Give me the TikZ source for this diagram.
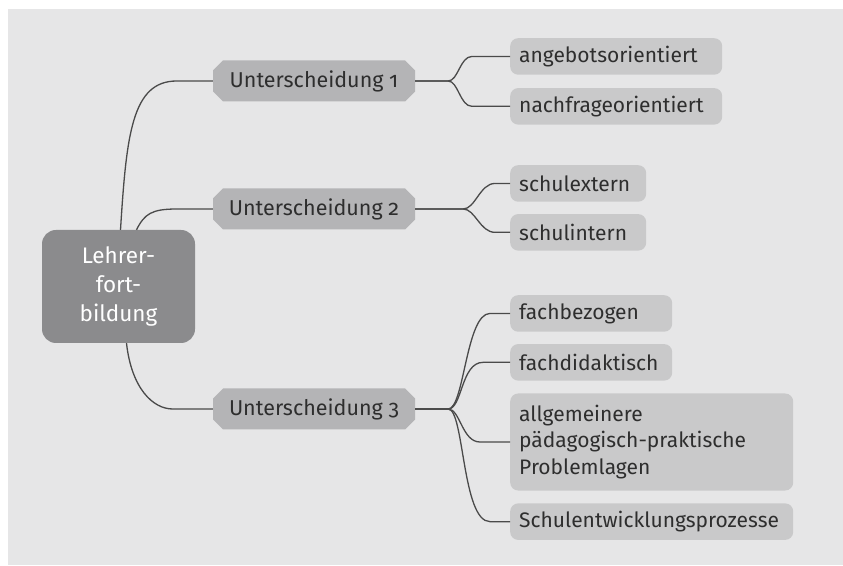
\documentclass[tikz,border=0pt]{standalone}
\usepackage{fontspec}
\setmainfont[Numbers=OldStyle]{Fira Sans}
\usetikzlibrary{positioning}

\definecolor{panelgray}{HTML}{E6E6E7}
\definecolor{rootgray}{HTML}{8B8B8D}
\definecolor{branchgray}{HTML}{B4B4B6}
\definecolor{leafgray}{HTML}{C9C9CA}
\definecolor{linkgray}{HTML}{4A4A4A}
\definecolor{textgray}{HTML}{2E2E2E}

\begin{document}
\begin{tikzpicture}[x=1pt, y=1pt,
  every node/.style={font=\fontsize{21}{26.5}\selectfont, text=textgray},
  root/.style={fill=rootgray, rounded corners=14pt, minimum width=153pt, minimum height=113pt, align=center, text=white, font=\fontsize{22.5}{29}\selectfont},
  branch/.style={minimum width=202pt, minimum height=41pt, inner sep=0pt, font=\fontsize{21.5}{26}\selectfont,
    path picture={\fill[branchgray]
      ([xshift=10pt]path picture bounding box.north west) -- ([xshift=-10pt]path picture bounding box.north east)
      -- ([yshift=-10pt]path picture bounding box.north east) -- ([yshift=10pt]path picture bounding box.south east)
      -- ([xshift=-10pt]path picture bounding box.south east) -- ([xshift=10pt]path picture bounding box.south west)
      -- ([yshift=10pt]path picture bounding box.south west) -- ([yshift=-10pt]path picture bounding box.north west) -- cycle;}},
  leaf/.style={fill=leafgray, rounded corners=8pt, minimum height=36.5pt, inner xsep=9pt, inner ysep=0pt, align=left, anchor=north west},
  link/.style={draw=linkgray, line width=1.3pt}]
  % Background
  \useasboundingbox (0,0) rectangle (843,565);
  \fill[panelgray] (8,0) rectangle (843,556);
  % Nodes
  \node[root] (lf) at (118.5,278.5) {Lehrer-\\fort-\\bildung};
  \node[branch] (u1) at (314,484) {Unterscheidung 1};
  \node[branch] (u2) at (314,356) {Unterscheidung 2};
  \node[branch] (u3) at (314,156) {Unterscheidung 3};
  \node[leaf, text width=194pt] (ang) at (510,527) {angebotsorientiert};
  \node[leaf, text width=194pt, below=13 of ang.south west, anchor=north west] (nach) {nachfrageorientiert};
  \node[leaf, text width=118pt] (sext) at (510,400) {schulextern};
  \node[leaf, text width=118pt, below=12 of sext.south west, anchor=north west] (sint) {schulintern};
  \node[leaf, text width=144pt] (fbez) at (510,270) {fachbezogen};
  \node[leaf, text width=144pt, below=12 of fbez.south west, anchor=north west] (fdid) {fachdidaktisch};
  \node[leaf, text width=265pt, minimum height=97pt, below=12.5 of fdid.south west, anchor=north west] (allg) {allgemeinere\\pädagogisch-praktische\\Problemlagen};
  \node[leaf, text width=265pt, below=12.5 of allg.south west, anchor=north west] (sent) {Schulentwicklungsprozesse};
  % Branch points
  \coordinate[right=33 of u1.east] (k1);
  \coordinate[right=48 of u2.east] (k2);
  \coordinate[right=33 of u3.east] (k3);
  % Edges
  \draw[link] ([xshift=2]lf.north) .. controls +(6,95) and +(-45,0) .. ([xshift=-36]u1.west) -- (u1.west);
  \draw[link] ([xshift=18]lf.north) .. controls +(8,16) and +(-25,0) .. ([xshift=-36]u2.west) -- (u2.west);
  \draw[link] ([xshift=8]lf.south) .. controls +(5,-45) and +(-20,0) .. ([xshift=-40]u3.west) -- (u3.west);
  \draw[link] (u1.east) -- (k1) .. controls +(10,0) and +(-12,0) .. ([xshift=-38]ang.west) -- (ang.west);
  \draw[link] (u1.east) -- (k1) .. controls +(10,0) and +(-12,0) .. ([xshift=-38]nach.west) -- (nach.west);
  \draw[link] (u2.east) -- (k2) .. controls +(12,0) and +(-15,0) .. ([xshift=-15]sext.west) -- (sext.west);
  \draw[link] (u2.east) -- (k2) .. controls +(12,0) and +(-15,0) .. ([xshift=-15]sint.west) -- (sint.west);
  \draw[link] (u3.east) -- (k3) .. controls +(16,0) and +(-24,0) .. ([xshift=-20]fbez.west) -- (fbez.west);
  \draw[link] (u3.east) -- (k3) .. controls +(14,0) and +(-22,0) .. ([xshift=-27]fdid.west) -- (fdid.west);
  \draw[link] (u3.east) -- (k3) .. controls +(12,0) and +(-18,0) .. ([xshift=-30]allg.west) -- (allg.west);
  \draw[link] (u3.east) -- (k3) .. controls +(16,0) and +(-28,0) .. ([xshift=-20]sent.west) -- (sent.west);
\end{tikzpicture}
\end{document}
